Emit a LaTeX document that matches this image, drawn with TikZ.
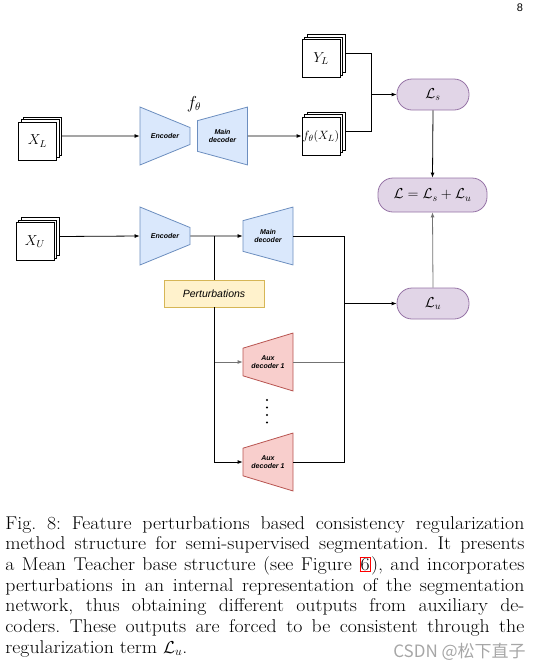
\documentclass[tikz,border=0pt]{standalone}
\usepackage{amssymb,amsfonts,amsmath}
\usepackage{fontspec}
\setsansfont{Liberation Sans}
\newfontfamily\cjkfont{Noto Sans CJK SC}
\newfontfamily\capfont[FakeStretch=1.07]{Latin Modern Roman}
\usetikzlibrary{positioning}
\usetikzlibrary{arrows.meta}
\usetikzlibrary{shapes.geometric}
\usetikzlibrary{shadows}
\definecolor{encfill}{HTML}{DAE8FC}
\definecolor{encdraw}{HTML}{6C8EBF}
\definecolor{auxfill}{HTML}{F8CECC}
\definecolor{auxdraw}{HTML}{B85450}
\definecolor{pertfill}{HTML}{FFF2CC}
\definecolor{pertdraw}{HTML}{D6B656}
\definecolor{lossfill}{HTML}{E1D5E7}
\definecolor{lossdraw}{HTML}{9673A6}
\tikzset{arr/.style = {-{Latex[length=5pt,width=4pt]}}}
\tikzset{trap/.style = {trapezium, trapezium stretches=true,
                        trapezium left angle=77.5, trapezium right angle=77.5,
                        minimum width=58, minimum height=50, inner sep=0pt,
                        align=center, font=\sffamily\bfseries\itshape\fontsize{7}{8.5}\selectfont}}
\tikzset{encoder/.style = {trap, shape border rotate=270, fill=encfill, draw=encdraw}}
\tikzset{decoder/.style = {trap, shape border rotate=90, fill=encfill, draw=encdraw}}
\tikzset{auxdec/.style = {trap, shape border rotate=90, fill=auxfill, draw=auxdraw}}
\tikzset{stack/.style = {draw, fill=white, minimum size=38, inner sep=0pt,
                         double copy shadow={shadow xshift=2.5pt, shadow yshift=2.5pt,
                                             draw=black, fill=white},
                         font=\fontsize{14}{14}\selectfont}}
\tikzset{loss/.style = {draw=lossdraw, fill=lossfill, rounded corners=15pt,
                        minimum height=31, font=\fontsize{14}{14}\selectfont}}
\tikzset{every picture/.style={
    every path/.style={line width=0.8pt},
}}

\begin{document}
\begin{tikzpicture}[x=1pt, y=-1pt]

      \useasboundingbox (0,0) rectangle (543,670);

      \node[font=\sffamily\fontsize{11}{11}\selectfont] (page) at (520,8) {8};

      % labelled branch
      \node[stack] (xl) at (37.5,141) {$X_L$};
      \node[encoder] (enc1) at (165,136) {Encoder};
      \node[decoder] (dec1) at (222.5,136) {Main\\decoder};
      \node[font=\fontsize{16}{16}\selectfont] (ftheta) at (194,104) {$f_\theta$};
      \node[stack] (yl) at (321,58.5) {$Y_L$};
      \node[stack, font=\fontsize{12.5}{12.5}\selectfont] (fx) at (321,136) {$f_\theta(X_L)$};
      \node[loss, minimum width=72] (ls) at (433,94.5) {$\mathcal{L}_s$};
      \node[loss, minimum width=109, minimum height=34] (lall) at (432.5,195)
        {$\mathcal{L} = \mathcal{L}_s + \mathcal{L}_u$};

      % unlabelled branch
      \node[stack] (xu) at (35,241.5) {$X_U$};
      \node[encoder] (enc2) at (165,236) {Encoder};
      \node[decoder] (dec2) at (268,236) {Main\\decoder};
      \node[draw=pertdraw, fill=pertfill, minimum width=100, minimum height=27,
            font=\sffamily\itshape\fontsize{10.5}{10.5}\selectfont] (pert) at (214,293.5) {Perturbations};
      \node[auxdec] (aux1) at (268,362) {Aux\\decoder 1};
      \node[auxdec] (aux2) at (268,462) {Aux\\decoder 1};
      \node[loss, minimum width=72] (lu) at (433,303.5) {$\mathcal{L}_u$};
      \foreach \y in {400,407.5,415,422.5}
        \fill (267,\y) circle (1.1);

      \coordinate (jn) at (371,94.5);
      \coordinate (br) at (214,236);
      \coordinate (mg) at (344,303.5);

      \draw[arr] ([shift={(5pt,5pt)}]xl.east) -- (enc1.west);
      \draw[arr] (dec1.east) -- (fx.west);
      \draw ([shift={(5pt,5pt)}]yl.east) -| (jn);
      \draw ([shift={(5pt,5pt)}]fx.east) -| (jn);
      \draw[arr] (jn) -- (ls.west);
      \draw[arr] (ls.south) -- (lall.north);
      \draw[arr, black!55] (lu.north) -- (lall.south);

      \draw[arr] ([shift={(5pt,5pt)}]xu.east) -- (enc2.west);
      \draw[arr] (enc2.east) -- (dec2.west);
      \draw (br) -- (pert.north);
      \draw[arr, black!55] (pert.south) |- (aux1.west);
      \draw[arr] (pert.south) |- (aux2.west);
      \draw (dec2.east) -| (mg);
      \draw[black!55] (aux1.east) -| (mg);
      \draw (aux2.east) -| (mg);
      \draw[arr] (mg) -- (lu.west);

      % caption
      \node[anchor=base west, inner sep=0pt, text width=519pt, align=justify,
            font=\capfont\fontsize{18.5}{20.7}\selectfont] (cap) at (5,529)
        {\tolerance=10000\relax\frenchspacing
         Fig.~8: Feature perturbations based consistency regularization\linebreak
         method structure for semi-supervised segmentation. It presents\linebreak
         a Mean Teacher base structure (see Figure {\setlength{\fboxsep}{0.5pt}\setlength{\fboxrule}{0.7pt}\color{red}\fbox{\color{black}6}}), and incorporates\linebreak
         perturbations in an internal representation of the segmentation\linebreak
         network, thus obtaining different outputs from auxiliary de-\linebreak
         coders. These outputs are forced to be consistent through the\linebreak
         regularization term $\mathcal{L}_u$.};

      \node[text=black!35, font=\cjkfont\fontsize{17}{17}\selectfont] (mark) at (459.5,652) {CSDN @松下直子};

\end{tikzpicture}
\end{document}
